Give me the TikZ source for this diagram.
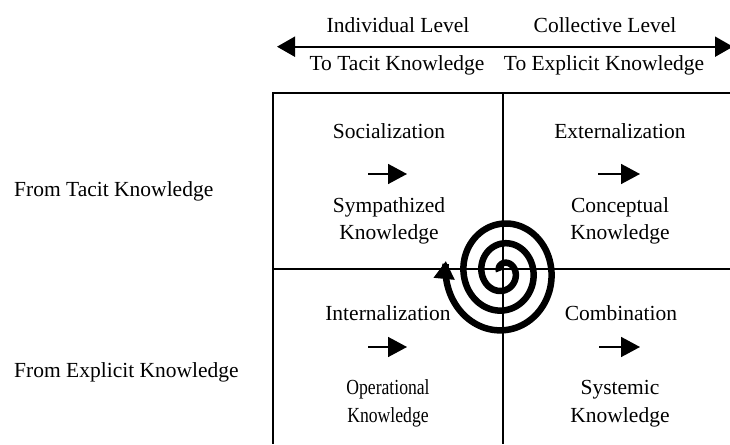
\documentclass[tikz,border=0pt]{standalone}
\usepackage{fontspec}
\setmainfont{Liberation Serif}
\usepackage{graphicx}
\usetikzlibrary{arrows.meta}
\tikzset{
  lbl/.style={inner sep=0pt, anchor=base, font=\fontsize{21.5}{26}\selectfont},
  lbll/.style={inner sep=0pt, anchor=base west, font=\fontsize{21.5}{26}\selectfont},
  gridline/.style={line width=2pt},
  modearrow/.style={line width=1.6pt, -{Triangle[length=19pt,width=20pt]}},
  levelarrow/.style={line width=2pt, {Triangle[length=18pt,width=20pt]}-{Triangle[length=18pt,width=20pt]}},
  spiralline/.style={line width=6.5pt, -{Triangle[length=18pt,width=20pt]}}
}
\begin{document}
\begin{tikzpicture}[x=1pt,y=1pt]
\useasboundingbox (0,0) rectangle (730,444);
% level arrow
\coordinate (la) at (277,397.3);
\coordinate (lb) at (733,397.3);
\draw[levelarrow] (la) -- (lb);
\node[lbl] (ind) at (398,411) {Individual Level};
\node[lbl] (col) at (605,411) {Collective Level};
\node[lbl] (tt) at (397,373) {To Tacit Knowledge};
\node[lbl] (te) at (604,373) {To Explicit Knowledge};
% grid
\coordinate (g1) at (273,351);
\coordinate (g2) at (730,351);
\coordinate (g3) at (273,0);
\coordinate (g4) at (503,351);
\coordinate (g5) at (503,0);
\coordinate (g6) at (273,175);
\coordinate (g7) at (730,175);
\draw[gridline] (g2) -- (g1) -- (g3);
\draw[gridline] (g4) -- (g5);
\draw[gridline] (g6) -- (g7);
% row labels
\node[lbll] (ft) at (14,247) {From Tacit Knowledge};
\node[lbll] (fe) at (14,66) {From Explicit Knowledge};
% quadrant texts
\node[lbl] (soc) at (389,305) {Socialization};
\node[lbl] (sym1) at (389,231) {Sympathized};
\node[lbl] (sym2) at (389,204) {Knowledge};
\node[lbl] (ext) at (620,305) {Externalization};
\node[lbl] (con1) at (620,231) {Conceptual};
\node[lbl] (con2) at (620,204) {Knowledge};
\node[lbl] (int) at (388,123) {Internalization};
\node[lbl] (op1) at (388,49) {\scalebox{0.82}[1]{Operational}};
\node[lbl] (op2) at (388,21) {\scalebox{0.82}[1]{Knowledge}};
\node[lbl] (com) at (621,123) {Combination};
\node[lbl] (sy1) at (620,49) {Systemic};
\node[lbl] (sy2) at (620,21) {Knowledge};
% mode arrows
\coordinate (a1s) at (368,270); \coordinate (a1e) at (407,270);
\coordinate (a2s) at (598,270); \coordinate (a2e) at (640,270);
\coordinate (a3s) at (368,97);  \coordinate (a3e) at (407,97);
\coordinate (a4s) at (599,97);  \coordinate (a4e) at (640,97);
\draw[modearrow] (a1s) -- (a1e);
\draw[modearrow] (a2s) -- (a2e);
\draw[modearrow] (a3s) -- (a3e);
\draw[modearrow] (a4s) -- (a4e);
% spiral
\draw[spiralline] plot[domain=0:1080, samples=320, smooth, variable=\t]
  ({503+(4+\t/20)*cos(1250-\t)}, {172+1.1*(4+\t/20)*sin(1250-\t)});
\end{tikzpicture}
\end{document}
